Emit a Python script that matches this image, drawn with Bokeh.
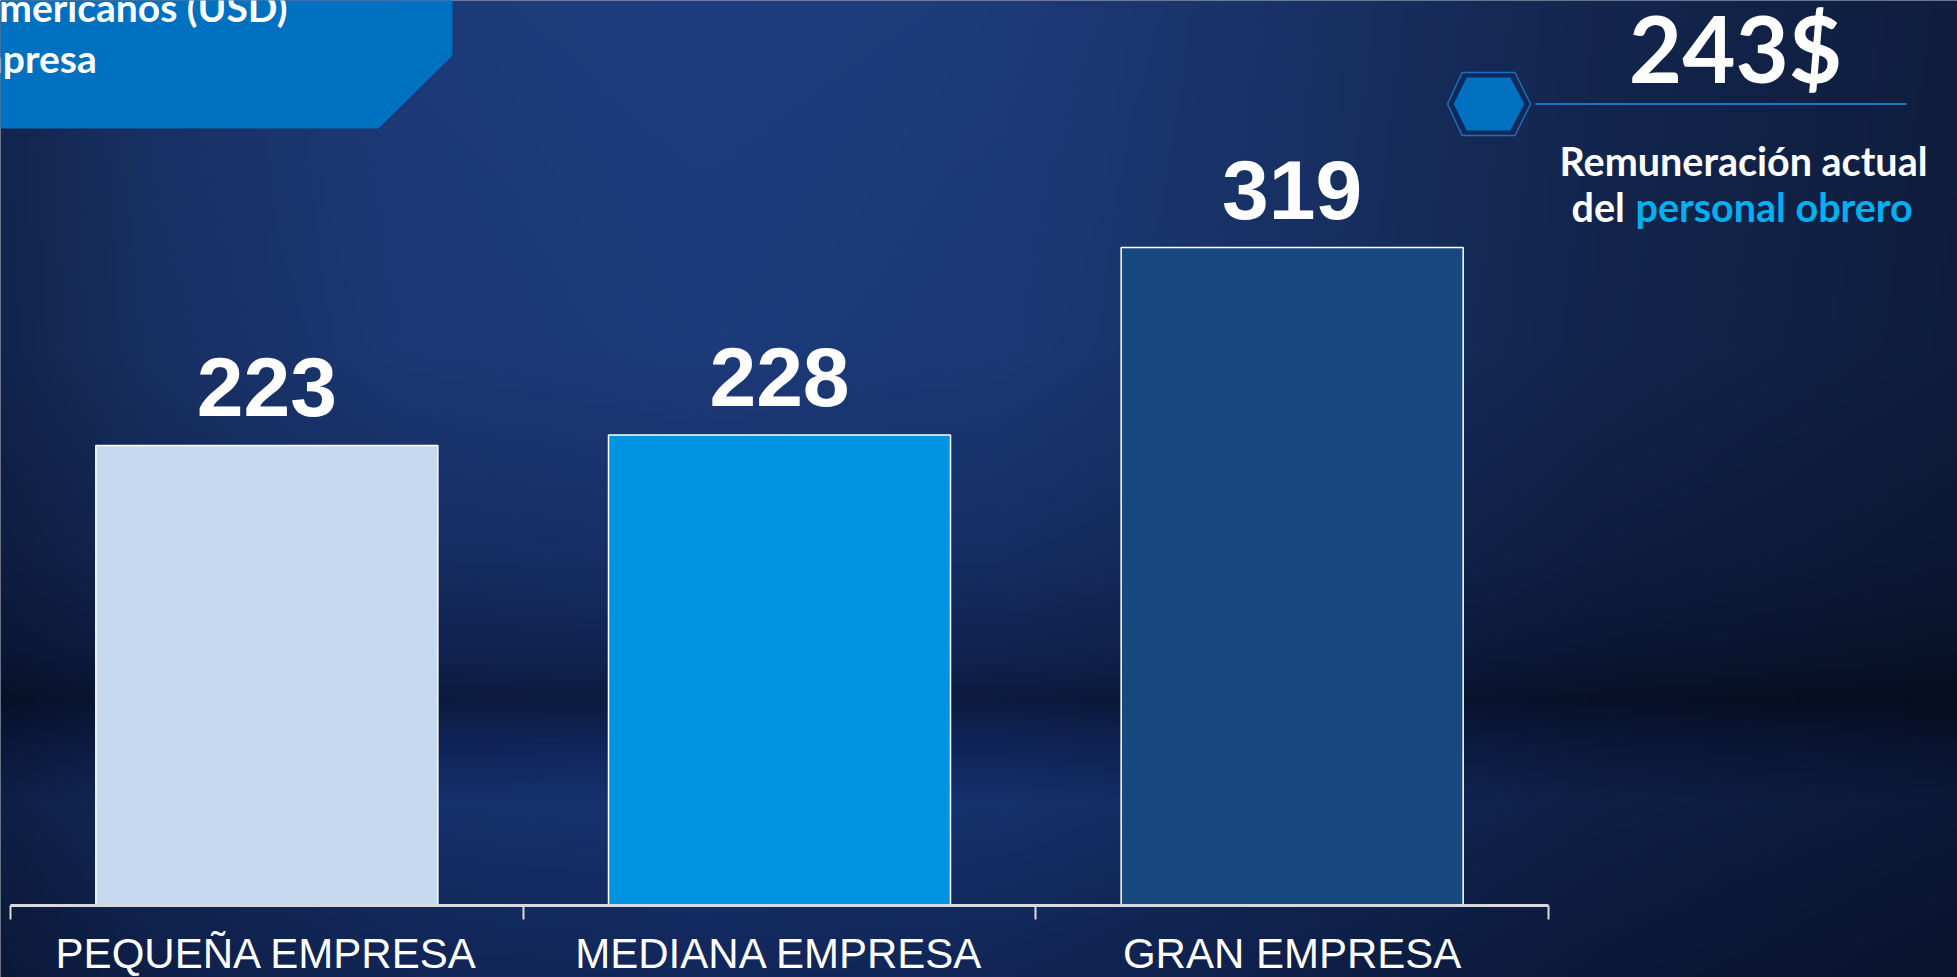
import numpy as np
from bokeh.plotting import figure
from bokeh.models import LinearAxis, FixedTicker, Range1d, ColumnDataSource
from bokeh.core.properties import value
from bokeh.embed import file_html
from bokeh.resources import INLINE

# ---------------- data ----------------
categories = ["PEQUEÑA EMPRESA", "MEDIANA EMPRESA", "GRAN EMPRESA"]
salaries = [223, 228, 319]
bar_colors = ["#C6D9F1", "#0093E2", "#17497F"]
headline_value = "243$"
headline_line1 = "Remuneración actual"
headline_line2a = "del"
headline_line2b = "personal obrero"
title_line1 = "Salario promedio en dólares americanos (USD)"
title_line2 = "por tipo de empresa"

# ---------------- layout helpers (page pixels -> data units) ----------------
W, H = 1957, 977
PX_PER_CAT = 1538 / 3.0
PX_PER_USD = 2.061
BASE_Y = 904.5
LEFT_X = 10.0


def dx(px):
    return (px - LEFT_X) / PX_PER_CAT


def dy(py):
    return (BASE_Y - py) / PX_PER_USD


p = figure(width=W, height=H,
           x_range=Range1d(dx(0), dx(W)), y_range=Range1d(dy(H), dy(0)),
           output_backend="svg", toolbar_location=None,
           x_axis_type=None, y_axis_type=None, min_border=0)
p.grid.grid_line_color = None
p.outline_line_color = None
p.background_fill_color = "#10244f"
p.border_fill_color = "#10244f"

# ---------------- background gradient ----------------
GW, GH = 392, 196
gx = (np.arange(GW) + 0.5) * W / GW
gy = (np.arange(GH) + 0.5) * H / GH
vy = [0, 350, 560, 650, 700, 740, 800, 870, 977]
vr = [31, 29, 23, 17, 12, 16, 23, 21, 18]
vg = [61, 59, 47, 37, 27, 37, 51, 46, 39]
vb = [126, 122, 102, 84, 64, 90, 112, 102, 90]
hx = [0, 150, 400, 700, 1000, 1300, 1600, 1957]
hf = [0.62, 0.8, 0.95, 1.0, 0.96, 0.8, 0.62, 0.5]
H_f = np.interp(gx, hx, hf)
rgba = np.zeros((GH, GW, 4), dtype=np.uint8)
for ch, arr in enumerate([vr, vg, vb]):
    col = np.interp(gy, vy, arr)
    rgba[..., ch] = np.clip(col[:, None] * H_f[None, :], 0, 255).astype(np.uint8)
rgba[..., 3] = 255
img = rgba[::-1].copy().view(dtype=np.uint32).reshape((GH, GW))
p.image_rgba(image=[img], x=dx(0), y=dy(H), dw=dx(W) - dx(0), dh=dy(0) - dy(H))

# ---------------- title box (top-left) ----------------
p.patch(x=[dx(-10), dx(452), dx(452), dx(378), dx(-10)],
        y=[dy(-10), dy(-10), dy(55), dy(128), dy(128)],
        fill_color="#0070C0", line_color=None)
p.text(x=[dx(287)], y=[dy(6)], text=[title_line1], text_align="right", text_baseline="alphabetic",
       text_font=value("Lato"), text_font_style="bold", text_font_size="39px", text_color="white")
p.text(x=[dx(97)], y=[dy(57)], text=[title_line2], text_align="right", text_baseline="alphabetic",
       text_font=value("Lato"), text_font_style="bold", text_font_size="39px", text_color="white")

# ---------------- bars ----------------
xs = list(np.arange(len(categories)) + 0.5)
src = ColumnDataSource(dict(x=xs, top=salaries, color=bar_colors,
                            label=[str(v) for v in salaries], cat=categories))
p.vbar(x="x", top="top", bottom=0, width=342 / PX_PER_CAT, fill_color="color",
       line_color="white", line_width=1.5, source=src)
p.text(x="x", y="top", text="label", source=src, text_align="center", text_baseline="alphabetic",
       y_offset=-58, text_font=value("Liberation Sans"), text_font_style="bold",
       text_font_size="84px", text_color="white")

# ---------------- axis ----------------
xaxis = LinearAxis(fixed_location=0,
                   ticker=FixedTicker(ticks=xs, minor_ticks=list(range(len(categories) + 1))),
                   bounds=(0, len(categories)))
xaxis.major_label_overrides = {float(x): c for x, c in zip(xs, categories)}
xaxis.axis_line_color = "#D9D9D9"
xaxis.axis_line_width = 3
xaxis.major_tick_line_color = None
xaxis.major_tick_in = 0
xaxis.major_tick_out = 0
xaxis.minor_tick_in = 0
xaxis.minor_tick_out = 14
xaxis.minor_tick_line_color = "#D9D9D9"
xaxis.minor_tick_line_width = 2
xaxis.major_label_standoff = 11
xaxis.major_label_text_font = "Liberation Sans"
xaxis.major_label_text_font_size = "42px"
xaxis.major_label_text_color = "white"
p.add_layout(xaxis, "below")

# ---------------- headline (top-right) ----------------
hcx, hcy = 1488.5, 103.5
outer = [(-41.5, 0), (-27, -31.5), (26, -31.5), (41.5, 0), (26, 31.5), (-27, 31.5)]
inner = [(-36.5, 0), (-23, -27.5), (22, -27.5), (36.5, 0), (22, 27.5), (-23, 27.5)]
p.patch(x=[dx(hcx + a) for a, b in outer], y=[dy(hcy + b) for a, b in outer],
        fill_color=None, line_color="#1A6FC0", line_width=1.5)
p.patch(x=[dx(hcx + a) for a, b in inner], y=[dy(hcy + b) for a, b in inner],
        fill_color="#0070C0", line_color="#0C2A5E", line_width=2)
p.line(x=[dx(1535), dx(1906)], y=[dy(hcy), dy(hcy)], line_color="#1F74C4", line_width=2)

p.text(x=[dx(1735)], y=[dy(47)], text=[headline_value], text_align="center", text_baseline="alphabetic",
       text_font=value("Lato"), text_font_style="bold", text_font_size="92px", text_color="white")
p.text(x=[dx(1743)], y=[dy(160)], text=[headline_line1], text_align="center", text_baseline="alphabetic",
       text_font=value("Lato"), text_font_style="bold", text_font_size="39.5px", text_color="white")
p.text(x=[dx(1571)], y=[dy(206)], text=[headline_line2a], text_align="left", text_baseline="alphabetic",
       text_font=value("Lato"), text_font_style="bold", text_font_size="39.5px", text_color="white")
p.text(x=[dx(1635)], y=[dy(206)], text=[headline_line2b], text_align="left", text_baseline="alphabetic",
       text_font=value("Lato"), text_font_style="bold", text_font_size="39.5px", text_color="#00B0F0")

open("out.html", "w").write(file_html(p, INLINE))
